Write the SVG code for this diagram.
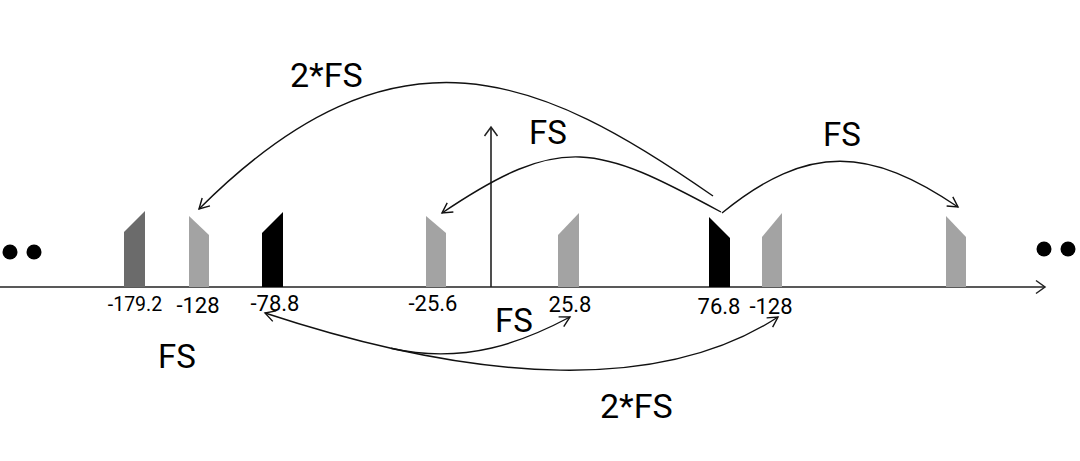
<svg xmlns="http://www.w3.org/2000/svg" width="1080" height="461" viewBox="0 0 1080 461">
  <style>
    text { font-family: Roboto, "Liberation Sans", sans-serif; fill: #000; }
    .num { font-size: 22px; text-anchor: middle; }
    .lbl { font-size: 33px; }
    .curve { fill: none; stroke: #111; stroke-width: 1.4; }
    .axis { fill: none; stroke: #222; stroke-width: 1.6; }
    .g1 { fill: #6b6b6b; }
    .g2 { fill: #a3a3a3; }
    .bk { fill: #000; }
    .dot { fill: #000; }
  </style>
  <defs>
    <marker id="arr" markerUnits="userSpaceOnUse" viewBox="-13 -8 15 16" refX="0" refY="0" markerWidth="15" markerHeight="16" orient="auto-start-reverse">
      <path d="M-10,-5.5 L0,0 L-10,5.5" fill="none" stroke="#111" stroke-width="1.4"/>
    </marker>
    <marker id="axarr" markerUnits="userSpaceOnUse" viewBox="-13 -8 15 16" refX="0" refY="0" markerWidth="15" markerHeight="16" orient="auto">
      <path d="M-9,-6.5 L0,0 L-9,6.5" fill="none" stroke="#222" stroke-width="1.5"/>
    </marker>
  </defs>
  <rect width="1080" height="461" fill="#fff"/>

  <g id="axes">
    <line class="axis" x1="0" y1="287" x2="1045" y2="287" marker-end="url(#axarr)"/>
    <line class="axis" x1="491" y1="287" x2="491" y2="127" marker-end="url(#axarr)"/>
  </g>

  <g id="dots-left">
    <circle class="dot" cx="10" cy="252" r="7.5"/>
    <circle class="dot" cx="34" cy="252" r="7.5"/>
  </g>
  <g id="dots-right">
    <circle class="dot" cx="1044" cy="249" r="7.5"/>
    <circle class="dot" cx="1068" cy="249" r="7.5"/>
  </g>

  <g id="bar-m179">
    <polygon class="g1" points="124,287 124,232 145,211 145,287"/>
    <text class="num" x="135" y="311" style="font-size:19.5px">-179.2</text>
  </g>
  <g id="bar-m128">
    <polygon class="g2" points="189,287 189,216 209,235 209,287"/>
    <text class="num" x="198" y="313">-128</text>
  </g>
  <g id="bar-m78">
    <polygon class="bk" points="262,287 262,233 283,212 283,287"/>
    <text class="num" x="275" y="311">-78.8</text>
  </g>
  <g id="bar-m25">
    <polygon class="g2" points="426,287 426,216 446,233 446,287"/>
    <text class="num" x="433" y="311">-25.6</text>
  </g>
  <g id="bar-p25">
    <polygon class="g2" points="558,287 558,235 579,213 579,287"/>
    <text class="num" x="570" y="312">25.8</text>
  </g>
  <g id="bar-p76">
    <polygon class="bk" points="709,287 709,217 730,238 730,287"/>
    <text class="num" x="719" y="314">76.8</text>
  </g>
  <g id="bar-p128">
    <polygon class="g2" points="762,287 762,237 782,213 782,287"/>
    <text class="num" x="771" y="314">-128</text>
  </g>
  <g id="bar-right">
    <polygon class="g2" points="946,287 946,216 966,237 966,287"/>
  </g>

  <g id="connectors">
    <path class="curve" d="M713,196 C540,75 396,12 199,209" marker-end="url(#arr)"/>
    <path class="curve" d="M721,212 C597,145 562,132 442,213" marker-end="url(#arr)"/>
    <path class="curve" d="M722,213 C809,142 871,148 958,207" marker-end="url(#arr)"/>
    <path class="curve" d="M265,313 C483,385 663,392 778,317" marker-start="url(#arr)" marker-end="url(#arr)"/>
    <path class="curve" d="M391,348.3 C466,365.2 525,340.9 570,317" marker-end="url(#arr)"/>
  </g>

  <g id="labels">
    <text class="lbl" x="290" y="87" style="font-size:34px">2*FS</text>
    <text class="lbl" x="529" y="144">FS</text>
    <text class="lbl" x="823" y="146">FS</text>
    <text class="lbl" x="495" y="332">FS</text>
    <text class="lbl" x="158" y="368">FS</text>
    <text class="lbl" x="600" y="418" style="font-size:34px">2*FS</text>
  </g>
</svg>
